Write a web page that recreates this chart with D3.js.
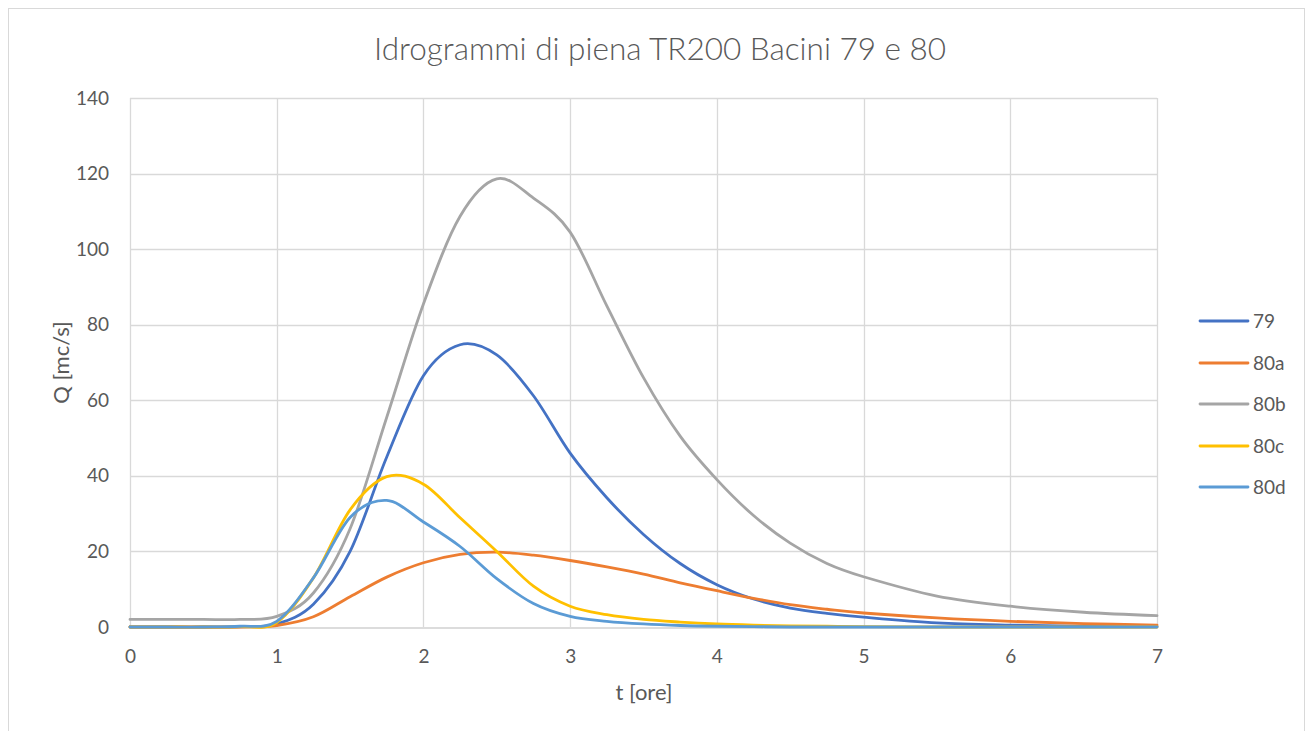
<!DOCTYPE html>
<html>
<head>
<meta charset="utf-8">
<script src="https://cdn.jsdelivr.net/npm/d3@7"></script>
<style>
  html, body { margin: 0; padding: 0; background: #fff; }
  svg { display: block; }
  text { font-family: Lato, "Open Sans", sans-serif; fill: #595959; }
</style>
</head>
<body>
<svg id="chart" width="1312" height="731"></svg>
<script>
// Time axis [hours]
const hours = [0, 0.25, 0.5, 0.75, 1.0, 1.25, 1.5, 1.75, 2.0, 2.25, 2.5, 2.75, 3.0,
  3.25, 3.5, 3.75, 4.0, 4.25, 4.5, 4.75, 5.0, 5.5, 6.0, 6.5, 7.0];

// Discharge [mc/s] per basin
const q79  = [0, 0, 0, 0.1, 0.8, 6.0, 20, 45, 66.5, 74.7, 72, 61.2, 46,
  34.2, 24.5, 16.8, 11.2, 7.4, 5.0, 3.6, 2.6, 1.1, 0.5, 0.2, 0.1];
const q80a = [0, 0, 0, 0, 0.4, 2.7, 8, 13.2, 17, 19.2, 19.8, 19.0, 17.6,
  15.9, 14.0, 11.7, 9.6, 7.6, 5.9, 4.7, 3.7, 2.4, 1.5, 0.9, 0.5];
const q80b = [2.0, 2.0, 2.0, 2.0, 2.8, 9, 26, 55.5, 85.5, 108.7, 118.6, 113.5, 104.5,
  85, 66, 50.5, 39, 29.5, 22.2, 16.8, 13.3, 8.2, 5.5, 3.9, 3.0];
const q80c = [0, 0, 0, 0.1, 1.2, 13, 31, 39.8, 37.8, 28.9, 20, 10.8, 5.5,
  3.25, 2.0, 1.3, 0.8, 0.5, 0.3, 0.2, 0.1, 0, 0, 0, 0];
const q80d = [0, 0, 0, 0.2, 1.5, 13, 29, 33.5, 27.8, 21.3, 12.8, 6.2, 2.8,
  1.5, 0.8, 0.4, 0.2, 0.1, 0, 0, 0, 0, 0, 0, 0];

const seriesNames = ["79", "80a", "80b", "80c", "80d"];
const seriesValues = [q79, q80a, q80b, q80c, q80d];
const seriesColors = ["#4472C4", "#ED7D31", "#A5A5A5", "#FFC000", "#5B9BD5"];

const xTicks = [0, 1, 2, 3, 4, 5, 6, 7];
const yTicks = [0, 20, 40, 60, 80, 100, 120, 140];

const titleText = "Idrogrammi di piena TR200 Bacini 79 e 80";
const xTitle = "t [ore]";
const yTitle = "Q [mc/s]";

const svg = d3.select("#chart");
const plot = { left: 130, right: 1157, top: 98, bottom: 627 };

// Chart frame
svg.append("rect")
  .attr("x", 8.5).attr("y", 8.5)
  .attr("width", 1296).attr("height", 740)
  .attr("fill", "#fff").attr("stroke", "#d9d9d9").attr("stroke-width", 1);

const x = d3.scaleLinear().domain([0, 7]).range([plot.left, plot.right]);
const y = d3.scaleLinear().domain([0, 140]).range([plot.bottom, plot.top]);

// Gridlines
const grid = svg.append("g");
grid.selectAll("line.h").data(yTicks.filter(v => v > 0)).join("line")
  .attr("x1", plot.left).attr("x2", plot.right)
  .attr("y1", d => Math.round(y(d)) + 0.5).attr("y2", d => Math.round(y(d)) + 0.5)
  .attr("stroke", "#d9d9d9").attr("stroke-width", 1.3);
grid.selectAll("line.v").data(xTicks).join("line")
  .attr("y1", plot.top).attr("y2", plot.bottom)
  .attr("x1", d => Math.round(x(d)) + 0.5).attr("x2", d => Math.round(x(d)) + 0.5)
  .attr("stroke", "#d9d9d9").attr("stroke-width", 1.3);

// Axes
const xAxis = d3.axisBottom(x).tickValues(xTicks).tickSize(0).tickPadding(22).tickFormat(d3.format("d"));
const yAxis = d3.axisLeft(y).tickValues(yTicks).tickSize(0).tickPadding(21).tickFormat(d3.format("d"));

const gx = svg.append("g").attr("transform", `translate(0,${Math.round(plot.bottom) + 0.5})`).call(xAxis);
gx.select(".domain").attr("stroke", "#d0d0d0").attr("stroke-width", 1.5);
gx.selectAll("text").attr("font-size", 19).attr("fill", "#595959")
  .attr("font-family", "Lato, sans-serif");

const gy = svg.append("g").attr("transform", `translate(${plot.left},0)`).call(yAxis);
gy.select(".domain").remove();
gy.selectAll("text").attr("font-size", 19).attr("fill", "#595959")
  .attr("font-family", "Lato, sans-serif");

// Series lines (smoothed)
const line = d3.line()
  .x(d => x(d[0]))
  .y(d => y(d[1]))
  .curve(d3.curveCardinal.tension(0));

const gLines = svg.append("g");
seriesValues.forEach((vals, i) => {
  const pts = hours.map((t, k) => [t, vals[k]]);
  gLines.append("path")
    .datum(pts)
    .attr("d", line)
    .attr("fill", "none")
    .attr("stroke", seriesColors[i])
    .attr("stroke-width", 2.8)
    .attr("stroke-linejoin", "round")
    .attr("stroke-linecap", "round");
});

// Title
svg.append("text")
  .attr("x", 660).attr("y", 60)
  .attr("text-anchor", "middle")
  .attr("font-size", 31.5)
  .attr("font-weight", 300)
  .text(titleText);

// Axis titles
svg.append("text")
  .attr("x", (plot.left + plot.right) / 2 + 0.5).attr("y", 700)
  .attr("text-anchor", "middle").attr("font-size", 22)
  .text(xTitle);
svg.append("text")
  .attr("transform", `translate(69,${(plot.top + plot.bottom) / 2}) rotate(-90)`)
  .attr("text-anchor", "middle").attr("font-size", 22)
  .text(yTitle);

// Legend
const legend = svg.append("g");
const legendRows = [321, 363, 404, 446, 487];
seriesNames.forEach((name, i) => {
  const g = legend.append("g").attr("transform", `translate(0,${legendRows[i]})`);
  g.append("line").attr("x1", 1200).attr("x2", 1248).attr("y1", 0).attr("y2", 0)
    .attr("stroke", seriesColors[i]).attr("stroke-width", 2.8).attr("stroke-linecap", "round");
  g.append("text").attr("x", 1253).attr("y", 0).attr("dy", "0.36em")
    .attr("font-size", 19).text(name);
});
</script>
</body>
</html>
